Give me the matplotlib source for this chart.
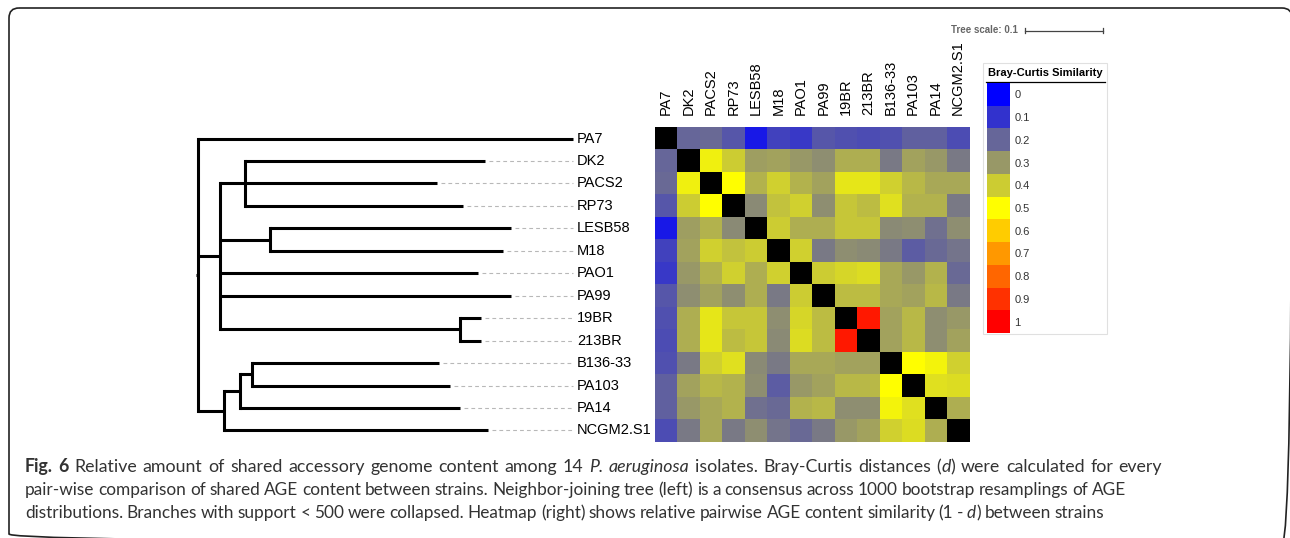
import numpy as np
import matplotlib
matplotlib.use("Agg")
import matplotlib.pyplot as plt
from matplotlib.colors import LinearSegmentedColormap
from matplotlib.patches import FancyBboxPatch, Rectangle

# ---------------- data ----------------
strains = ["PA7", "DK2", "PACS2", "RP73", "LESB58", "M18", "PAO1", "PA99",
           "19BR", "213BR", "B136-33", "PA103", "PA14", "NCGM2.S1"]

# upper triangle of the Bray-Curtis similarity matrix (row i, columns i+1..13)
sim_upper = [
    [0.20, 0.21, 0.17, 0.05, 0.13, 0.11, 0.17, 0.16, 0.15, 0.16, 0.19, 0.19, 0.15],
    [0.47, 0.40, 0.31, 0.32, 0.30, 0.28, 0.34, 0.34, 0.24, 0.32, 0.30, 0.24],
    [0.50, 0.35, 0.41, 0.35, 0.32, 0.45, 0.45, 0.41, 0.36, 0.33, 0.33],
    [0.27, 0.38, 0.41, 0.28, 0.39, 0.37, 0.44, 0.35, 0.35, 0.24],
    [0.40, 0.34, 0.34, 0.39, 0.39, 0.27, 0.28, 0.22, 0.28],
    [0.41, 0.24, 0.28, 0.27, 0.24, 0.18, 0.21, 0.23],
    [0.40, 0.42, 0.43, 0.33, 0.30, 0.35, 0.21],
    [0.37, 0.37, 0.33, 0.32, 0.36, 0.24],
    [0.95, 0.32, 0.36, 0.28, 0.30],
    [0.32, 0.36, 0.28, 0.32],
    [0.50, 0.48, 0.41],
    [0.44, 0.43],
    [0.34],
]

# neighbour-joining tree: node names, parents, branch lengths (tree units)
node_names = ["root", "PA7", "A", "A1", "DK2", "PACS2", "RP73", "A2", "LESB58", "M18",
              "PAO1", "PA99", "A3", "19BR", "213BR", "B", "B1", "B2", "B136-33",
              "PA103", "PA14", "NCGM2.S1"]
node_parents = [None, "root", "root", "A", "A1", "A1", "A1", "A", "A2", "A2",
                "A", "A", "A", "A3", "A3", "root", "B", "B1", "B2",
                "B2", "B1", "B"]
branch_lengths = [0.0, 0.481, 0.028, 0.032, 0.308, 0.246, 0.279, 0.064, 0.309, 0.299,
                  0.331, 0.373, 0.308, 0.027, 0.026, 0.033, 0.021, 0.015, 0.240,
                  0.254, 0.282, 0.338]

legend_levels = [0, 0.1, 0.2, 0.3, 0.4, 0.5, 0.6, 0.7, 0.8, 0.9, 1]
legend_labels = ["0", "0.1", "0.2", "0.3", "0.4", "0.5", "0.6", "0.7", "0.8", "0.9", "1"]
tree_scale = 0.1

caption_lines = [
    [("Fig. 6 ", "bold", "normal"),
     ("Relative amount of shared accessory genome content among 14 ", "normal", "normal"),
     ("P. aeruginosa ", "normal", "italic"),
     ("isolates. Bray-Curtis distances (", "normal", "normal"),
     ("d", "normal", "italic"),
     (") were calculated for every", "normal", "normal")],
    [("pair-wise comparison of shared AGE content between strains. Neighbor-joining tree "
      "(left) is a consensus across 1000 bootstrap resamplings of AGE", "normal", "normal")],
    [("distributions. Branches with support < 500 were collapsed. Heatmap (right) shows "
      "relative pairwise AGE content similarity (1 - ", "normal", "normal"),
     ("d", "normal", "italic"),
     (") between strains", "normal", "normal")],
]
caption_line_ends = [1162, 1126, 1104]   # right end of each caption line (px)

# ---------------- figure ----------------
W, H = 1290, 538
fig = plt.figure(figsize=(W / 100, H / 100), dpi=100)
fig.patch.set_facecolor("white")
LAB_FONT = "Liberation Sans"
CAP_FONT = "Lato"


def px_axes(x0, y0, x1, y1):
    return fig.add_axes([x0 / W, 1 - y1 / H, (x1 - x0) / W, (y1 - y0) / H])


pax = fig.add_axes([0, 0, 1, 1])
pax.set_xlim(0, W)
pax.set_ylim(H, 0)
pax.axis("off")

# rounded frame
pax.add_patch(FancyBboxPatch((9, 8), 1283, 536, boxstyle="round,pad=0,rounding_size=10",
                             fc="none", ec="#222222", lw=1.2, clip_on=False))

# ---------------- heatmap ----------------
n = len(strains)
M = np.full((n, n), np.nan)
for i, row in enumerate(sim_upper):
    for k, v in enumerate(row):
        j = i + 1 + k
        M[i, j] = v
        M[j, i] = v

cmap = LinearSegmentedColormap.from_list("bc", [(0, "#0000ff"), (0.5, "#ffff00"), (1, "#ff0000")])
cmap.set_bad("black")

HM_TOP, HM_BOT = 127.3, 441.7
hm = px_axes(655, HM_TOP, 969.3, HM_BOT)
hm.imshow(np.ma.masked_invalid(M), cmap=cmap, vmin=0, vmax=1, aspect="auto",
          interpolation="nearest")
hm.set_xticks(range(n))
hm.set_xticklabels(strains, rotation=90, fontsize=10.5, family=LAB_FONT)
hm.xaxis.tick_top()
hm.tick_params(axis="x", length=0, pad=8.5)
hm.set_yticks([])
for s in hm.spines.values():
    s.set_visible(False)

# ---------------- tree ----------------
PX_PER_UNIT = 780.0
idx = {nm: i for i, nm in enumerate(node_names)}
children = {nm: [] for nm in node_names}
for nm, p in zip(node_names, node_parents):
    if p is not None:
        children[p].append(nm)

xpos, ypos = {}, {}


def layout(nm, x0):
    x = x0 + branch_lengths[idx[nm]]
    xpos[nm] = x
    if children[nm]:
        for c in children[nm]:
            layout(c, x)
        ypos[nm] = (ypos[children[nm][0]] + ypos[children[nm][-1]]) / 2
    else:
        ypos[nm] = strains.index(nm)


layout("root", 0.0)
maxdepth = max(xpos[s] for s in strains)
ROOT_X = 198.3
tr = px_axes(ROOT_X, HM_TOP, ROOT_X + maxdepth * PX_PER_UNIT, HM_BOT)
tr.set_xlim(0, maxdepth)
tr.set_ylim(n - 0.5, -0.5)
tr.axis("off")

LW = 2.2
for nm in node_names:
    p = node_parents[idx[nm]]
    if children[nm]:
        ys = [ypos[c] for c in children[nm]]
        tr.plot([xpos[nm], xpos[nm]], [min(ys), max(ys)], color="black", lw=LW,
                solid_capstyle="projecting", clip_on=False)
    if p is not None:
        tr.plot([xpos[p], xpos[nm]], [ypos[nm], ypos[nm]], color="black", lw=LW,
                solid_capstyle="butt", clip_on=False)
    else:
        tr.plot([-2.5 / PX_PER_UNIT, xpos[nm]], [ypos[nm], ypos[nm]], color="black",
                lw=LW, solid_capstyle="butt", clip_on=False)

for s in strains:
    if xpos[s] < maxdepth - 1e-6:
        tr.plot([xpos[s] + 4 / PX_PER_UNIT, maxdepth], [ypos[s], ypos[s]], color="#b8b8b8",
                lw=0.8, dashes=(3.4, 2.8), clip_on=False)
    tr.annotate(s, (maxdepth, ypos[s]), xytext=(2.6, 0), textcoords="offset points",
                va="center", ha="left", fontsize=10.5, family=LAB_FONT, color="black",
                annotation_clip=False)

# tree scale bar
sb_x0, sb_y = 1025, 30.7
sb_len = tree_scale * PX_PER_UNIT
pax.plot([sb_x0, sb_x0 + sb_len], [sb_y, sb_y], color="#444444", lw=0.9)
for xx in (sb_x0, sb_x0 + sb_len):
    pax.plot([xx, xx], [sb_y - 2.5, sb_y + 2.5], color="#444444", lw=0.9)
pax.text(sb_x0 - 7, sb_y - 1, f"Tree scale: {tree_scale:g}", ha="right", va="center",
         fontsize=7, fontweight="bold", color="#666666", family=LAB_FONT)

# ---------------- legend ----------------
pax.add_patch(Rectangle((983, 63), 124, 271, fc="white", ec="#e0e0e0", lw=0.8))
pax.text(988, 73.5, "Bray-Curtis Similarity", ha="left", va="center", fontsize=8,
         fontweight="bold", color="black", family=LAB_FONT)
pax.plot([986, 1105], [82.3, 82.3], color="black", lw=0.9)
lg = px_axes(987, 83, 1010, 333)
lg.imshow(np.array(legend_levels).reshape(-1, 1), cmap=cmap, vmin=0, vmax=1,
          aspect="auto", interpolation="nearest")
lg.set_xticks([])
lg.yaxis.tick_right()
lg.set_yticks(range(len(legend_levels)))
lg.set_yticklabels(legend_labels, fontsize=8, family=LAB_FONT, color="#333333")
lg.tick_params(axis="y", length=0, pad=3)
for s in lg.spines.values():
    s.set_visible(False)

# ---------------- caption ----------------
renderer = fig.canvas.get_renderer()


def seg_width(txt, weight, style, fs):
    t = pax.text(0, 0, txt + "|", fontsize=fs, fontweight=weight, fontstyle=style, family=CAP_FONT)
    b = pax.text(0, 0, "|", fontsize=fs, fontweight=weight, fontstyle=style, family=CAP_FONT)
    w = t.get_window_extent(renderer).width - b.get_window_extent(renderer).width
    t.remove()
    b.remove()
    return w


def tokenize(line):
    toks = []
    for txt, wt, st in line:
        parts = txt.split(" ")
        for k, part in enumerate(parts):
            if part:
                toks.append([part, wt, st, False])
            if k < len(parts) - 1 and toks:
                toks[-1][3] = True
    return toks


def natural(toks, fs):
    sp = seg_width(" ", "normal", "normal", fs)
    words = sum(seg_width(t[0], t[1], t[2], fs) for t in toks)
    nsp = sum(1 for t in toks[:-1] if t[3])
    return words + nsp * sp, nsp, sp


CAP_X = 25
fs0 = 12.0
tok_lines = [tokenize(l) for l in caption_lines]
nat0 = [natural(t, fs0)[0] for t in tok_lines]
targets = [e - CAP_X for e in caption_line_ends]
base_fs = fs0 * sum(targets) / sum(nat0)

for li, toks in enumerate(tok_lines):
    y = 472 + li * 23
    ratio = targets[li] / (nat0[li] * base_fs / fs0)
    fs = base_fs * ratio ** 0.5
    nat, nsp, sp = natural(toks, fs)
    extra = (targets[li] - nat) / max(nsp, 1)
    x = CAP_X
    for word, wt, st, space_after in toks:
        pax.text(x, y, word, fontsize=fs, fontweight=wt, fontstyle=st, family=CAP_FONT,
                 color="#333333", ha="left", va="baseline")
        x += seg_width(word, wt, st, fs)
        if space_after:
            x += sp + extra

fig.savefig("out.png", dpi=100, facecolor="white")
